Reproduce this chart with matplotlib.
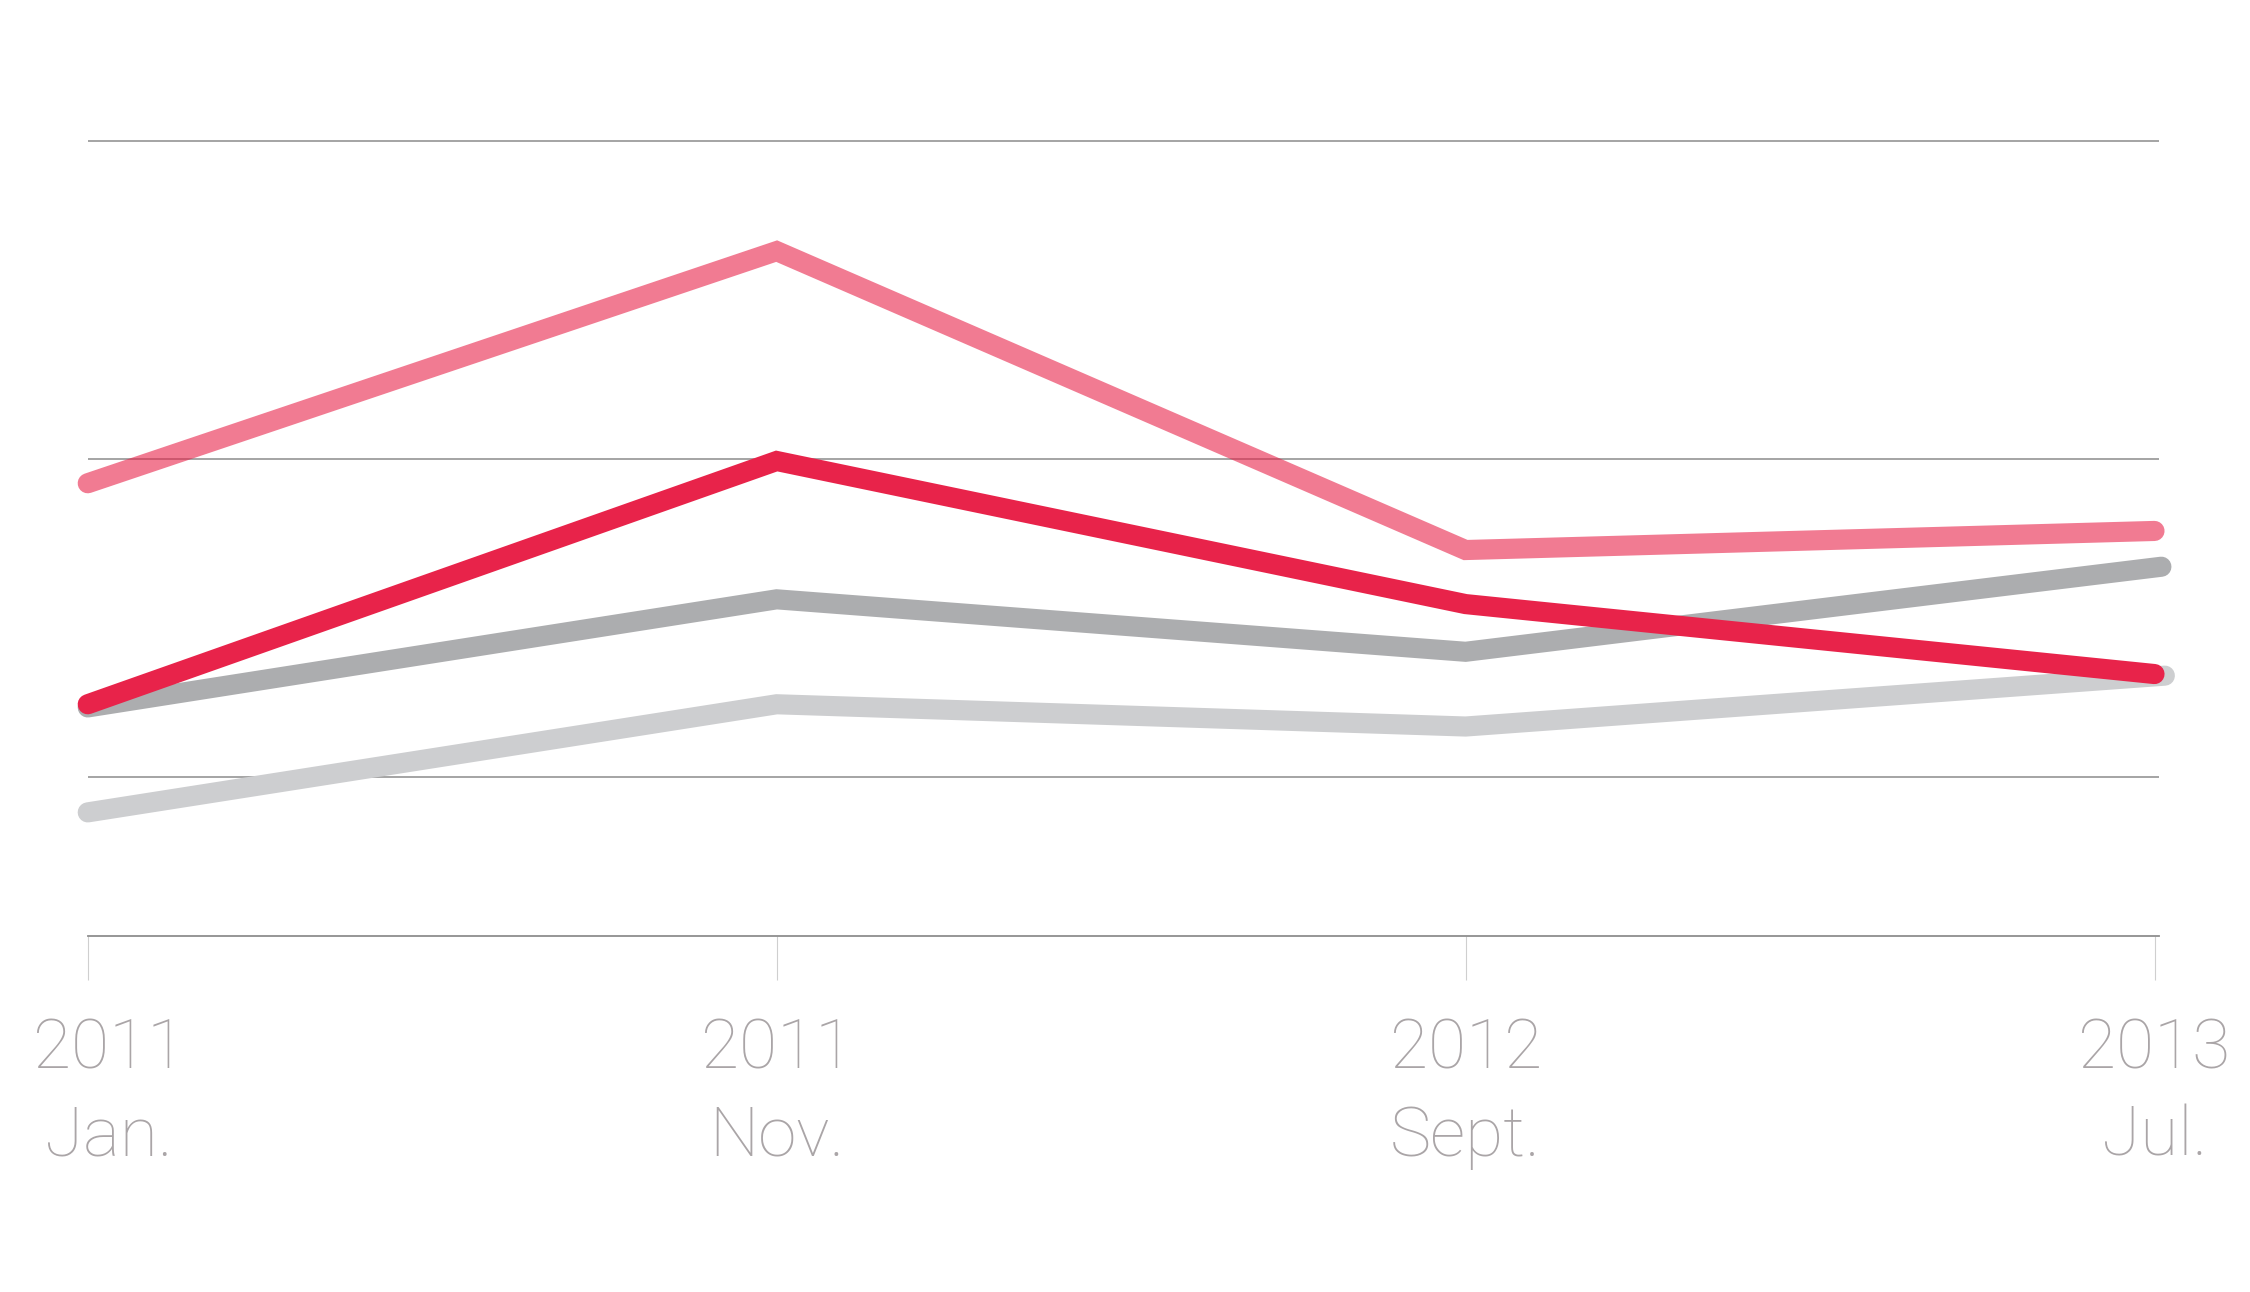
import numpy as np
import matplotlib
matplotlib.use("Agg")
import matplotlib.pyplot as plt
import matplotlib.transforms as mtransforms

# four survey dates, x positions of the points
x_pos = [0, 1, 2, 3]
years = ["2011", "2011", "2012", "2013"]
months = ["Jan.", "Nov.", "Sept.", "Jul."]

# series values (arbitrary units, gridlines at 10/30/50)
pink_vals = [28.5, 43.1, 24.3, 25.5]
red_vals = [14.6, 29.9, 20.9, 16.5]
darkgray_vals = [14.4, 21.2, 17.9, 23.25]
lightgray_vals = [7.8, 14.6, 13.2, 16.4]
darkgray_x = [0, 1, 2, 3.01]
lightgray_x = [0, 1, 2, 3.015]

grid_vals = [10, 30, 50]

fig = plt.figure(figsize=(22.5, 12.92), dpi=100)
ax = fig.add_axes([0.039, 1 - 936.4 / 1292, 0.9207, 55 * 15.9 / 1292])

line_kw = dict(lw=14.5, solid_capstyle="round", solid_joinstyle="miter", clip_on=False)
ax.plot(lightgray_x, lightgray_vals, color="#cdced0", zorder=3, **line_kw)
ax.plot(darkgray_x, darkgray_vals, color="#acadaf", zorder=4, **line_kw)
ax.plot(x_pos, pink_vals, color="#e8234a", alpha=0.6, zorder=5, **line_kw)
ax.plot(x_pos, red_vals, color="#e8234a", zorder=6, **line_kw)

ax.set_xlim(0, 3.007)
ax.set_ylim(0, 55)

# gridlines
ax.set_yticks(grid_vals)
ax.yaxis.grid(True, color="#9d9d9d", lw=1.3, zorder=1)
ax.set_axisbelow(True)
ax.tick_params(axis="y", length=0, labelleft=False)

for s in ["top", "left", "right"]:
    ax.spines[s].set_visible(False)
ax.spines["bottom"].set_color("#8e8e8e")
ax.spines["bottom"].set_linewidth(1.3)

# x ticks with two-line labels
ax.set_xticks(x_pos)
ax.set_xticklabels([y + "\n" + m for y, m in zip(years, months)],
                   fontfamily="Roboto", fontweight=100, fontsize=50,
                   color="#aaa5a7", linespacing=1.42)
ax.tick_params(axis="x", direction="out", length=32, width=0.8,
               color="#cfcfcf", pad=26)

# first label sits a bit to the right of its tick
lab0 = ax.get_xticklabels()[0]
lab0.set_transform(lab0.get_transform() +
                   mtransforms.ScaledTranslation(0.21, 0, fig.dpi_scale_trans))

fig.savefig("out.png", dpi=100, facecolor="white")
